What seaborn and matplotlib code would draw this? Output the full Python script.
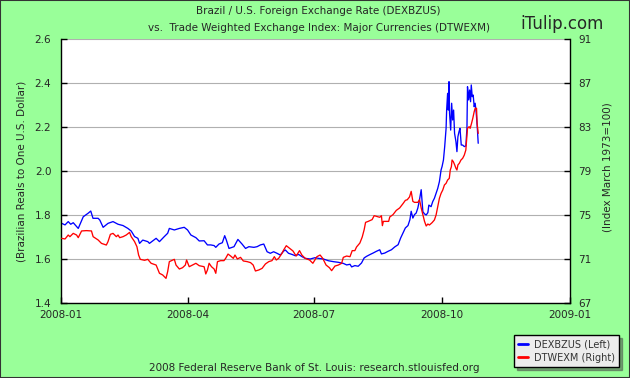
import matplotlib
matplotlib.use("Agg")
import matplotlib.pyplot as plt
from matplotlib.lines import Line2D
from matplotlib.patches import Rectangle
import pandas as pd
import seaborn as sns

START = pd.Timestamp("2008-01-01")
END = pd.Timestamp("2009-01-01")

# DEXBZUS: days since 2008-01-01, reals per dollar
dexbzus_day = [
    0.5, 2.9, 5.2, 7.0, 8.8, 12.4, 16.0, 19.5, 21.4, 23.0,
    26.7, 27.9, 30.3, 33.8, 37.4, 41.0, 44.6, 48.1, 50.5, 52.9,
    55.3, 56.5, 58.8, 62.4, 63.6, 68.4, 70.8, 74.3, 76.7, 77.9,
    81.5, 85.1, 88.6, 91.0, 93.4, 97.0, 99.4, 102.9, 105.3, 107.7,
    110.1, 111.3, 113.6, 116.0, 117.7, 118.9, 120.8, 124.4, 127.2, 130.3,
    132.7, 135.1, 138.7, 141.0, 143.4, 145.8, 148.2, 150.5, 152.9, 155.3,
    157.7, 160.1, 161.3, 163.6, 166.0, 168.4, 170.8, 173.2, 175.6, 179.2,
    182.7, 185.1, 188.7, 192.3, 195.8, 199.4, 203.0, 205.4, 207.8, 209.0,
    211.3, 213.7, 216.1, 218.0, 219.7, 222.1, 224.4, 226.8, 229.2, 230.4,
    232.8, 235.2, 237.6, 240.0, 242.4, 244.2, 245.9, 247.6, 249.5, 250.9,
    251.8, 253.0, 254.2, 255.4, 256.6, 257.8, 259.0, 260.2, 261.4, 262.6,
    263.8, 264.5, 266.1, 267.3, 268.5, 269.7, 270.9, 272.1, 273.3, 274.0,
    275.0, 275.9, 276.9, 277.3, 278.0, 278.5, 279.0, 279.4, 280.2, 280.9,
    281.6, 282.3, 283.0, 284.0, 284.7, 285.4, 286.2, 286.9, 287.8, 288.8,
    290.0, 291.1, 291.9, 292.3, 293.1, 293.8, 294.5, 295.0, 295.7, 296.4,
    297.1, 297.8, 298.6, 299.3, 300.0,
]
dexbzus_val = [
    1.762, 1.755, 1.770, 1.758, 1.765, 1.739, 1.792, 1.808, 1.818, 1.785,
    1.785, 1.777, 1.744, 1.762, 1.770, 1.758, 1.752, 1.739, 1.727, 1.702,
    1.694, 1.671, 1.686, 1.679, 1.671, 1.694, 1.679, 1.702, 1.717, 1.739,
    1.732, 1.739, 1.744, 1.732, 1.709, 1.697, 1.682, 1.683, 1.664, 1.664,
    1.661, 1.653, 1.668, 1.674, 1.706, 1.686, 1.648, 1.656, 1.689, 1.667,
    1.648, 1.656, 1.653, 1.656, 1.664, 1.668, 1.633, 1.626, 1.633, 1.626,
    1.618, 1.636, 1.641, 1.626, 1.621, 1.615, 1.621, 1.611, 1.603, 1.600,
    1.606, 1.603, 1.600, 1.592, 1.588, 1.585, 1.580, 1.573, 1.576, 1.564,
    1.570, 1.567, 1.582, 1.605, 1.612, 1.620, 1.627, 1.635, 1.642, 1.623,
    1.627, 1.635, 1.642, 1.655, 1.665, 1.695, 1.718, 1.741, 1.752, 1.779,
    1.817, 1.786, 1.802, 1.809, 1.832, 1.870, 1.915, 1.815, 1.805, 1.800,
    1.811, 1.845, 1.838, 1.861, 1.876, 1.898, 1.921, 1.952, 2.005, 2.020,
    2.050, 2.111, 2.194, 2.277, 2.353, 2.277, 2.406, 2.262, 2.186, 2.308,
    2.232, 2.277, 2.171, 2.133, 2.088, 2.156, 2.179, 2.194, 2.118, 2.118,
    2.111, 2.114, 2.194, 2.383, 2.323, 2.368, 2.315, 2.391, 2.338, 2.345,
    2.292, 2.308, 2.262, 2.202, 2.126,
]

# DTWEXM: days since 2008-01-01, index March 1973=100
dtwexm_day = [
    0.5, 2.9, 5.2, 6.4, 8.8, 11.2, 12.4, 14.8, 18.3, 21.9,
    23.1, 26.7, 29.1, 32.6, 33.8, 35.5, 37.4, 39.8, 41.0, 42.2,
    44.6, 46.9, 49.3, 50.5, 52.9, 54.6, 55.8, 57.0, 60.1, 62.4,
    64.8, 68.4, 70.8, 73.1, 75.5, 76.7, 77.9, 81.5, 82.7, 85.1,
    87.4, 89.4, 90.3, 92.2, 94.6, 97.0, 99.4, 102.9, 104.1, 105.3,
    106.5, 108.2, 110.1, 111.3, 112.5, 114.8, 117.2, 118.4, 120.1, 122.0,
    123.9, 125.1, 126.8, 129.1, 131.1, 133.9, 136.3, 138.2, 139.8, 142.2,
    144.6, 147.0, 149.4, 151.7, 153.4, 154.8, 156.5, 158.9, 160.1, 162.0,
    164.4, 166.8, 169.1, 171.5, 173.2, 175.6, 178.7, 181.1, 184.0, 186.3,
    188.2, 190.6, 193.0, 194.6, 197.0, 199.4, 201.8, 203.0, 205.4, 207.8,
    209.4, 211.3, 212.5, 214.9, 216.6, 218.0, 219.0, 220.9, 223.7, 225.2,
    226.8, 229.2, 230.4, 231.1, 231.8, 234.0, 235.6, 236.4, 238.7, 241.1,
    243.5, 245.9, 247.6, 249.0, 250.6, 251.8, 253.0, 254.2, 256.6, 257.8,
    259.0, 260.2, 261.4, 262.6, 263.8, 264.9, 266.8, 268.5, 269.7, 270.9,
    272.1, 273.3, 274.5, 275.7, 276.9, 278.0, 279.2, 279.9, 280.7, 281.2,
    282.1, 283.1, 284.0, 284.7, 285.4, 286.4, 287.6, 288.8, 290.0, 291.1,
    292.3, 293.5, 294.2, 295.2, 296.1, 297.1, 297.8, 298.8, 299.2, 300.0,
]
dtwexm_val = [
    72.88, 72.82, 73.18, 73.03, 73.33, 73.18, 72.94, 73.55, 73.58, 73.55,
    73.03, 72.73, 72.42, 72.27, 72.58, 73.24, 73.33, 73.03, 73.18, 72.94,
    73.03, 73.18, 73.42, 73.03, 72.58, 72.12, 71.36, 70.97, 70.88, 70.97,
    70.61, 70.45, 69.70, 69.55, 69.24, 69.85, 70.76, 70.97, 70.45, 70.09,
    70.21, 70.45, 70.91, 70.30, 70.45, 70.61, 70.39, 70.30, 69.64, 70.00,
    70.61, 70.30, 70.09, 69.70, 70.76, 70.85, 70.85, 71.06, 71.45, 71.27,
    71.06, 71.36, 71.00, 71.15, 70.82, 70.76, 70.67, 70.45, 69.91, 70.00,
    70.15, 70.55, 70.76, 70.85, 71.21, 70.91, 71.06, 71.52, 71.82, 72.21,
    71.97, 71.73, 71.27, 71.76, 71.36, 71.06, 70.91, 70.61, 71.21, 71.36,
    71.06, 70.45, 70.21, 69.94, 70.36, 70.45, 70.61, 71.15, 71.27, 71.21,
    71.76, 71.76, 72.09, 72.45, 73.00, 73.67, 74.33, 74.42, 74.58, 74.94,
    74.88, 74.79, 74.94, 74.03, 74.42, 74.42, 74.42, 74.82, 75.03, 75.42,
    75.64, 76.03, 76.33, 76.39, 76.64, 77.15, 76.24, 76.15, 76.15, 76.39,
    75.64, 75.03, 74.42, 74.00, 74.18, 74.09, 74.30, 74.55, 75.00, 75.76,
    76.52, 76.97, 77.27, 77.73, 77.88, 78.18, 78.33, 79.09, 79.39, 80.00,
    79.85, 79.55, 79.24, 79.09, 79.55, 79.70, 80.00, 80.15, 80.45, 80.91,
    82.88, 83.03, 82.88, 83.33, 83.79, 84.39, 84.70, 84.70, 83.33, 82.42,
]

left_ticks = [1.4, 1.6, 1.8, 2.0, 2.2, 2.4, 2.6]
right_ticks = [67, 71, 75, 79, 83, 87, 91]
x_ticks = ["2008-01-01", "2008-04-01", "2008-07-01", "2008-10-01", "2009-01-01"]
x_tick_labels = ["2008-01", "2008-04", "2008-07", "2008-10", "2009-01"]

BG = "#99ff99"
BLUE = "#0000ff"
RED = "#ff0000"

sns.set_style("white")
plt.rcParams["font.family"] = ["DejaVu Sans"]

blue_df = pd.DataFrame({
    "date": START + pd.to_timedelta(dexbzus_day, unit="D"),
    "value": dexbzus_val,
})
red_df = pd.DataFrame({
    "date": START + pd.to_timedelta(dtwexm_day, unit="D"),
    "value": dtwexm_val,
})

W, H = 630, 378
fig = plt.figure(figsize=(W / 100, H / 100), dpi=100, facecolor=BG)
ax = fig.add_axes([61 / W, 1 - 303 / H, (570 - 61) / W, (303 - 39) / H])
ax.set_facecolor("white")
ax2 = ax.twinx()

sns.lineplot(data=blue_df, x="date", y="value", ax=ax, color=BLUE,
             linewidth=0.95, estimator=None, sort=False)
sns.lineplot(data=red_df, x="date", y="value", ax=ax2, color=RED,
             linewidth=0.95, estimator=None, sort=False)

ax.set_xlim(START, END)
ax.set_ylim(1.4, 2.6)
ax2.set_ylim(67, 91)
ax.set_yticks(left_ticks)
ax.set_yticklabels([f"{t:.1f}" for t in left_ticks])
ax2.set_yticks(right_ticks)
ax.set_xticks(pd.to_datetime(x_ticks))
ax.set_xticklabels(x_tick_labels)
for a in (ax, ax2):
    a.set_xlabel("")
    a.set_ylabel("")

ax.grid(axis="y", color="#b0b0b0", linewidth=0.8)
ax.grid(axis="x", visible=False)
ax.set_axisbelow(True)

ax.spines["top"].set_visible(False)
ax.spines["right"].set_visible(False)
for side in ("left", "bottom"):
    ax.spines[side].set_color("black")
    ax.spines[side].set_linewidth(1.0)
for side in ("top", "left", "bottom"):
    ax2.spines[side].set_visible(False)
ax2.spines["right"].set_color("black")
ax2.spines["right"].set_linewidth(1.0)

ax.tick_params(axis="y", direction="in", length=4, width=1, color="black",
               pad=7, labelsize=7.5, left=True)
ax.tick_params(axis="x", direction="in", length=4, width=1, color="black",
               pad=5, labelsize=7.5, bottom=True)
ax2.tick_params(axis="y", direction="in", length=4, width=1, color="black",
                pad=6, labelsize=7.5, right=True)

fig.text(22 / W, 1 - 171 / H, "(Brazilian Reals to One U.S. Dollar)",
         rotation=90, ha="center", va="center", fontsize=7.5)
fig.text(607 / W, 1 - 167 / H, "(Index March 1973=100)",
         rotation=90, ha="center", va="center", fontsize=7.5)
fig.text(318 / W, 1 - 11 / H, "Brazil / U.S. Foreign Exchange Rate (DEXBZUS)",
         ha="center", va="center", fontsize=7.5)
fig.text(319 / W, 1 - 28 / H,
         "vs.  Trade Weighted Exchange Index: Major Currencies (DTWEXM)",
         ha="center", va="center", fontsize=7.5)
fig.text(562 / W, 1 - 24 / H, "iTulip.com", ha="center", va="center",
         fontsize=12)
fig.text(314 / W, 1 - 368 / H,
         "2008 Federal Reserve Bank of St. Louis: research.stlouisfed.org",
         ha="center", va="center", fontsize=7.5)

handles = [
    Line2D([0], [0], color=BLUE, linewidth=2, label="DEXBZUS (Left)"),
    Line2D([0], [0], color=RED, linewidth=2, label="DTWEXM (Right)"),
]
leg = fig.legend(handles=handles, loc="lower right",
                 bbox_to_anchor=(624 / W, 6 / H), fontsize=7,
                 frameon=True, fancybox=False, shadow=True,
                 facecolor="#ececec", edgecolor="black", framealpha=1,
                 handlelength=1.0, handletextpad=0.6, borderpad=0.45,
                 labelspacing=0.35)
for t in leg.get_texts():
    t.set_color("#333333")

fig.patches.append(Rectangle((0, 0), 1, 1, transform=fig.transFigure,
                             fill=False, edgecolor="#333333", linewidth=1.5))

fig.savefig("out.png", dpi=100, facecolor=BG)
